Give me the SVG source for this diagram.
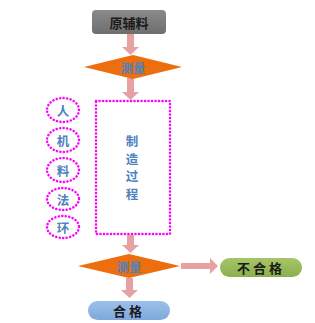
<svg xmlns="http://www.w3.org/2000/svg" width="315" height="323" viewBox="0 0 315 323">
<style>
.cn{font-family:"Noto Sans CJK SC","Liberation Sans",sans-serif;text-anchor:middle;dominant-baseline:central}
.dark{fill:#1a1a1a;font-weight:bold;font-size:13px}
.blue{fill:#4f81bd;font-size:12.5px;font-weight:bold}
.dot{fill:#fff;stroke:#ff00ff;stroke-width:2.5;stroke-dasharray:0.1 3.4;stroke-linecap:round}
.arr{fill:#e6a2a2}
.dia{fill:#ec6e0e}
</style>
<defs>
<linearGradient id="gg" x1="0" y1="0" x2="0" y2="1"><stop offset="0" stop-color="#8a8a8a"/><stop offset="1" stop-color="#6e6e6e"/></linearGradient>
<linearGradient id="gr" x1="0" y1="0" x2="0" y2="1"><stop offset="0" stop-color="#a6c56a"/><stop offset="1" stop-color="#8caf4c"/></linearGradient>
<linearGradient id="bl" x1="0" y1="0" x2="0" y2="1"><stop offset="0" stop-color="#9cc0ea"/><stop offset="1" stop-color="#7ea8dc"/></linearGradient>
</defs>
<g id="connectors">
<path class="arr" d="M127 34h7v13h5l-8.5 8l-8.5-8h5z"/>
<path class="arr" d="M127 78h7v14h5l-8.5 8l-8.5-8h5z"/>
<path class="arr" d="M127 235h7v10h5l-8.5 8l-8.5-8h5z"/>
<path class="arr" d="M126 278h7v12h5l-8.5 8l-8.5-8h5z"/>
<path class="arr" d="M181 263h29v-5l8 8l-8 8v-5h-29z"/>
</g>
<g id="raw"><rect x="92" y="10" width="74" height="24" rx="4" fill="url(#gg)"/><text class="cn dark" x="129" y="22">原辅料</text></g>
<g id="measure1"><polygon class="dia" points="84,67 133,55 182,67 133,79"/><text class="cn blue" x="133" y="67">测量</text></g>
<g id="process"><rect class="dot" x="96" y="101" width="74" height="133"/>
<text class="cn blue" x="132" y="140">制</text><text class="cn blue" x="132" y="158">造</text><text class="cn blue" x="132" y="175.5">过</text><text class="cn blue" x="132" y="193">程</text></g>
<g id="e1"><ellipse class="dot" cx="63" cy="110" rx="16" ry="12"/><text class="cn blue" x="63" y="110">人</text></g>
<g id="e2"><ellipse class="dot" cx="63" cy="140" rx="16" ry="12"/><text class="cn blue" x="63" y="140">机</text></g>
<g id="e3"><ellipse class="dot" cx="63" cy="170" rx="16" ry="12"/><text class="cn blue" x="63" y="170">料</text></g>
<g id="e4"><ellipse class="dot" cx="63" cy="199" rx="16" ry="11"/><text class="cn blue" x="63" y="199">法</text></g>
<g id="e5"><ellipse class="dot" cx="63" cy="227" rx="16" ry="11"/><text class="cn blue" x="63" y="227">环</text></g>
<g id="measure2"><polygon class="dia" points="78,266 129,254 180,266 129,278"/><text class="cn blue" x="129" y="266">测量</text></g>
<g id="fail"><rect x="220" y="258" width="82" height="19" rx="9.5" fill="url(#gr)"/><text class="cn dark" x="261" y="267.5" style="letter-spacing:3px">不合格</text></g>
<g id="pass"><rect x="88" y="301" width="82" height="19" rx="9.5" fill="url(#bl)"/><text class="cn dark" x="129" y="310.5" style="letter-spacing:3px">合格</text></g>
</svg>
